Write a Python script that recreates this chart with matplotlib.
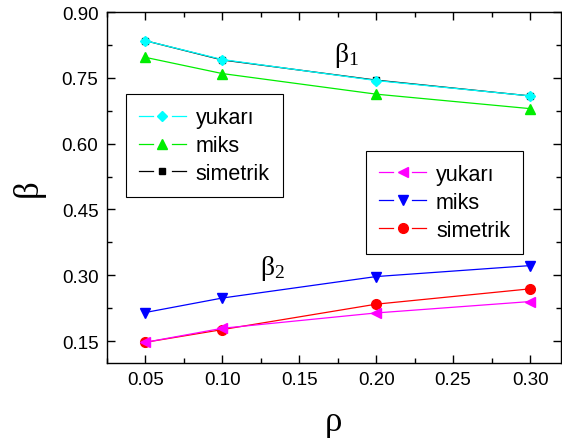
import matplotlib
matplotlib.use("Agg")
import matplotlib.pyplot as plt
from matplotlib.ticker import MultipleLocator
from matplotlib.legend_handler import HandlerBase
from matplotlib.lines import Line2D

plt.rcParams['font.family'] = ['Liberation Sans', 'DejaVu Sans']

rho = [0.05, 0.10, 0.20, 0.30]
b1_yukari = [0.835, 0.792, 0.744, 0.709]
b1_miks = [0.797, 0.760, 0.713, 0.680]
b1_simetrik = [0.835, 0.791, 0.745, 0.709]
b2_yukari = [0.147, 0.179, 0.214, 0.240]
b2_miks = [0.215, 0.248, 0.297, 0.322]
b2_simetrik = [0.147, 0.176, 0.234, 0.269]
labels = ['yukarı', 'miks', 'simetrik']


class GapHandler(HandlerBase):
    def create_artists(self, legend, orig, xdescent, ydescent, width, height, fontsize, trans):
        y = height / 2.0 - ydescent
        x0, x1 = -xdescent, -xdescent + width
        xc = (x0 + x1) / 2.0
        gap = 0.2 * width
        c = orig.get_color()
        lw_ = orig.get_linewidth()
        l1 = Line2D([x0, xc - gap], [y, y], color=c, lw=lw_, transform=trans)
        l2 = Line2D([xc + gap, x1], [y, y], color=c, lw=lw_, transform=trans)
        m = Line2D([xc], [y], color=c, marker=orig.get_marker(), ms=orig.get_markersize(),
                   ls='none', transform=trans)
        return [l1, l2, m]


fig = plt.figure(figsize=(5.62, 4.39), dpi=100)
ax = fig.add_axes([0.190, 0.171, 0.808, 0.799])

lw = 0.9
ms = 6
h_s, = ax.plot(rho, b1_simetrik, color='black', marker='s', lw=lw, ms=ms-1, label=labels[2])
h_m, = ax.plot(rho, b1_miks, color='#00ee00', marker='^', lw=lw, ms=ms+1, label=labels[1])
h_y, = ax.plot(rho, b1_yukari, color='cyan', marker='D', lw=lw, ms=ms-0.5, label=labels[0])

g_s, = ax.plot(rho, b2_simetrik, color='red', marker='o', lw=lw, ms=ms+1, label=labels[2])
g_m, = ax.plot(rho, b2_miks, color='blue', marker='v', lw=lw, ms=ms+1, label=labels[1])
g_y, = ax.plot(rho, b2_yukari, color='magenta', marker='<', lw=lw, ms=ms+1, label=labels[0])

ax.set_xlim(0.025, 0.32)
ax.set_ylim(0.10, 0.90)
ax.xaxis.set_minor_locator(MultipleLocator(0.025))
ax.yaxis.set_minor_locator(MultipleLocator(0.075))
ax.set_xticks([0.05, 0.10, 0.15, 0.20, 0.25, 0.30])
ax.set_xticklabels(['0.05', '0.10', '0.15', '0.20', '0.25', '0.30'])
ax.set_yticks([0.15, 0.30, 0.45, 0.60, 0.75, 0.90])
ax.set_yticklabels(['0.15', '0.30', '0.45', '0.60', '0.75', '0.90'])
ax.tick_params(which='both', direction='in', top=True, right=True, labelsize=13.5)
ax.tick_params(which='major', length=6, width=1, pad=6)
ax.tick_params(which='minor', length=3.5, width=1)
for sp in ax.spines.values():
    sp.set_linewidth(1.0)

ax.set_xlabel('ρ', fontsize=25, family=['Liberation Serif'], labelpad=12)
ax.set_ylabel('β', fontsize=25, family=['Liberation Serif'], labelpad=12)

ax.text(0.181, 0.803, r'$\mathregular{\beta_1}$', fontsize=20, family=['Liberation Serif'],
        ha='center', va='center')
ax.text(0.133, 0.318, r'$\mathregular{\beta_2}$', fontsize=20, family=['Liberation Serif'],
        ha='center', va='center')

hm = {h: GapHandler() for h in [h_y, h_m, h_s, g_y, g_m, g_s]}
common = dict(loc='upper left', borderaxespad=0, fancybox=False, edgecolor='black',
              fontsize=15.5, handlelength=2.2, handletextpad=0.45, labelspacing=0.32,
              borderpad=0.6, framealpha=1, handler_map=hm)
leg1 = ax.legend([h_y, h_m, h_s], labels, bbox_to_anchor=(0.042, 0.766), **common)
leg1.get_frame().set_linewidth(0.8)
ax.add_artist(leg1)
leg2 = ax.legend([g_y, g_m, g_s], labels, bbox_to_anchor=(0.571, 0.604), **common)
leg2.get_frame().set_linewidth(0.8)

fig.savefig('out.png', dpi=100)
